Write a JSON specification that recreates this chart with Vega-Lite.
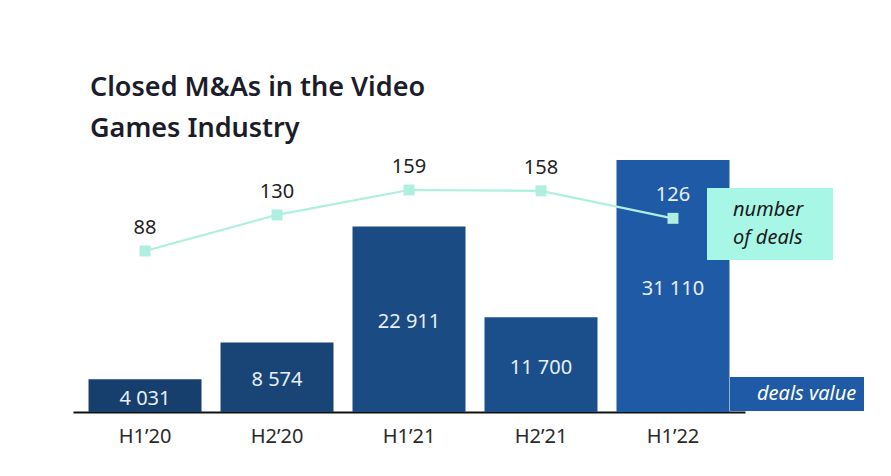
{
  "$schema": "https://vega.github.io/schema/vega-lite/v6.json",
  "width": 672,
  "height": 252,
  "autosize": {"type": "none"},
  "padding": {"left": 73, "top": 160, "right": 146, "bottom": 64},
  "background": "white",
  "config": {
    "view": {"stroke": null},
    "font": "Noto Sans",
    "locale": {"number": {"decimal": ",", "thousands": " ", "grouping": [3], "currency": ["", ""]}}
  },
  "title": {
    "text": ["Closed M&As in the Video", "Games Industry"],
    "anchor": "start",
    "frame": "group",
    "dx": 17,
    "fontSize": 27,
    "fontWeight": 600,
    "font": "Noto Sans",
    "color": "#1c1c2b",
    "lineHeight": 41,
    "offset": 14
  },
  "data": {
    "values": [
      {"period": "H1’20", "value": 4031, "deals": 88},
      {"period": "H2’20", "value": 8574, "deals": 130},
      {"period": "H1’21", "value": 22911, "deals": 159},
      {"period": "H2’21", "value": 11700, "deals": 158},
      {"period": "H1’22", "value": 31110, "deals": 126}
    ]
  },
  "encoding": {
    "x": {
      "field": "period",
      "type": "nominal",
      "sort": null,
      "scale": {"paddingInner": 0.144, "paddingOuter": 0.1176},
      "axis": {
        "title": null,
        "labelAngle": 0,
        "ticks": false,
        "domainColor": "#111111",
        "domainWidth": 2,
        "labelFontSize": 20,
        "labelColor": "#2a2a2a",
        "labelPadding": 14,
        "labelFont": "Noto Sans"
      }
    }
  },
  "layer": [
    {
      "mark": {"type": "bar", "strokeWidth": 0},
      "encoding": {
        "y": {"field": "value", "type": "quantitative", "scale": {"domain": [0, 31110], "nice": false}, "axis": null},
        "fill": {
          "field": "period",
          "type": "nominal",
          "sort": null,
          "scale": {"range": ["#163f6d", "#184576", "#1a4b82", "#1b4f8b", "#1f5aa6"]},
          "legend": null
        }
      }
    },
    {
      "mark": {"type": "text", "fontSize": 20, "color": "#e8eff9", "baseline": "middle", "dy": 3},
      "encoding": {
        "y": {"field": "value", "type": "quantitative", "scale": {"domain": [0, 62220], "nice": false}, "axis": null},
        "text": {"field": "value", "type": "quantitative", "format": ",d"}
      }
    },
    {
      "mark": {"type": "line", "strokeWidth": 2.2, "point": {"shape": "square", "size": 120, "filled": true}},
      "encoding": {
        "y": {"field": "deals", "type": "quantitative", "scale": {"domain": [-99.4, 193.9], "nice": false, "zero": false}, "axis": null},
        "opacity": {
          "datum": "deals value",
          "scale": {"range": [1]},
          "legend": {
            "title": null,
            "orient": "none",
            "legendX": 657,
            "legendY": 217,
            "fillColor": "#1f5aa6",
            "padding": 7,
            "labelFontSize": 20,
            "labelFontStyle": "italic",
            "labelColor": "#ffffff",
            "labelFont": "Noto Sans",
            "labelAlign": "left",
            "symbolSize": 1,
            "symbolStrokeWidth": 0.001,
            "symbolOpacity": 0,
            "labelOffset": 0.001,
            "cornerRadius": 0,
            "encode": {
              "labels": {"update": {"x": {"value": -20}}},
              "symbols": {"update": {"size": {"value": 1}, "opacity": {"value": 0}, "x": {"value": 118}}}
            }
          }
        },
        "color": {
          "datum": "number of deals",
          "scale": {"range": ["#aeefdf"]},
          "legend": {
            "title": null,
            "orient": "none",
            "legendX": 634,
            "legendY": 28,
            "fillColor": "#a8f6e6",
            "padding": 12,
            "labelFontSize": 20,
            "labelFontStyle": "italic",
            "labelColor": "#1a1a1a",
            "labelFont": "Noto Sans",
            "labelAlign": "left",
            "labelExpr": "['number', 'of deals']",
            "symbolSize": 1,
            "symbolStrokeWidth": 0.001,
            "symbolOpacity": 0,
            "labelOffset": 0.001,
            "cornerRadius": 0,
            "encode": {
              "labels": {"update": {"lineHeight": {"value": 28}, "x": {"value": 14}}},
              "symbols": {"update": {"size": {"value": 1}, "opacity": {"value": 0}, "x": {"value": 101}}}
            }
          }
        }
      }
    },
    {
      "mark": {"type": "text", "fontSize": 20, "baseline": "middle", "dy": -23},
      "encoding": {
        "y": {"field": "deals", "type": "quantitative", "scale": {"domain": [-99.4, 193.9], "nice": false, "zero": false}, "axis": null},
        "text": {"field": "deals", "type": "quantitative"},
        "color": {"condition": {"test": "datum.period === 'H1’22'", "value": "#e8eff9"}, "value": "#222222"}
      }
    }
  ],
  "resolve": {"scale": {"y": "independent"}}
}
